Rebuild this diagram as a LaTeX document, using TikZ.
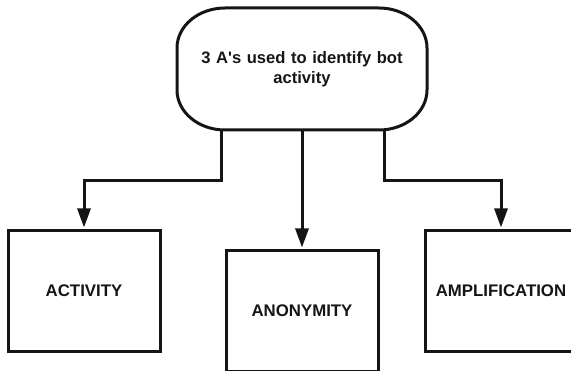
\documentclass[tikz,border=0pt]{standalone}
\usepackage{fontspec}
\setmainfont{Liberation Sans}
\newfontfamily\plainsans{Liberation Sans}
\usetikzlibrary{arrows.meta}
\definecolor{ink}{HTML}{151515}
\begin{document}
\begin{tikzpicture}[x=1pt,y=1pt,
  every node/.style={inner sep=0pt,outer sep=0pt,font=\bfseries,text=ink},
  stadium/.style={minimum width=250pt,minimum height=122pt,align=center,text width=230pt,font=\plainsans\fontsize{16.6}{20.5}\selectfont\bfseries},
  abox/.style={draw=ink,line width=3pt,minimum width=152pt,minimum height=121pt,font=\fontsize{16.8}{20}\selectfont\bfseries},
  conn/.style={draw=ink,line width=3pt,shorten >=3pt,-{Triangle[length=19pt,width=13pt]}}]
\useasboundingbox (0,0) rectangle (571,370);
\node[stadium] (top) at (302,301) {3 A's used to identify bot\\activity};
\draw[ink,line width=3pt]
  ([xshift=48pt]top.north west) -- ([xshift=-48pt]top.north east)
  arc[start angle=90,end angle=0,x radius=48pt,y radius=40pt]
  -- ([yshift=40pt]top.south east)
  arc[start angle=0,end angle=-90,x radius=48pt,y radius=40pt]
  -- ([xshift=48pt]top.south west)
  arc[start angle=270,end angle=180,x radius=48pt,y radius=40pt]
  -- ([yshift=-40pt]top.north west)
  arc[start angle=180,end angle=90,x radius=48pt,y radius=40pt] -- cycle;
\node[abox] (act) at (84,79) {ACTIVITY};
\node[abox] (ano) at (302,59) {ANONYMITY};
\node[abox] (amp) at (501,79) {AMPLIFICATION};
\draw[conn] ([xshift=-81pt]top.south) -- ++(0,-51) -| (act.north);
\draw[conn] (top.south) -- (ano.north);
\draw[conn] ([xshift=82pt]top.south) -- ++(0,-51) -| (amp.north);
\end{tikzpicture}
\end{document}
